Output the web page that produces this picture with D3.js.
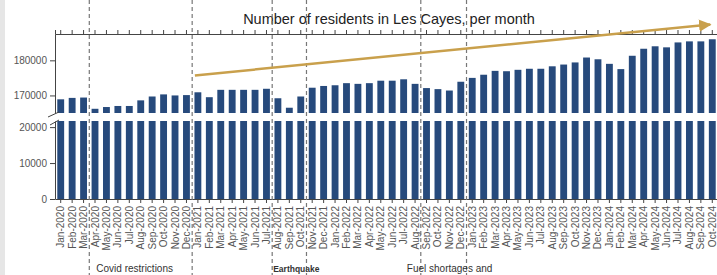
<!DOCTYPE html>
<html>
<head>
<meta charset="utf-8">
<script src="https://cdn.jsdelivr.net/npm/d3@7"></script>
<style>
  body { margin: 0; background: #fff; }
  svg { display: block; font-family: "Liberation Sans", Arial, sans-serif; }
</style>
</head>
<body>
<svg id="chart" width="717" height="275"></svg>
<script>
// month labels, Jan-2020 .. Oct-2024
const months = [
  'Jan-2020','Feb-2020','Mar-2020','Apr-2020','May-2020','Jun-2020','Jul-2020','Aug-2020','Sep-2020','Oct-2020','Nov-2020','Dec-2020',
  'Jan-2021','Feb-2021','Mar-2021','Apr-2021','May-2021','Jun-2021','Jul-2021','Aug-2021','Sep-2021','Oct-2021','Nov-2021','Dec-2021',
  'Jan-2022','Feb-2022','Mar-2022','Apr-2022','May-2022','Jun-2022','Jul-2022','Aug-2022','Sep-2022','Oct-2022','Nov-2022','Dec-2022',
  'Jan-2023','Feb-2023','Mar-2023','Apr-2023','May-2023','Jun-2023','Jul-2023','Aug-2023','Sep-2023','Oct-2023','Nov-2023','Dec-2023',
  'Jan-2024','Feb-2024','Mar-2024','Apr-2024','May-2024','Jun-2024','Jul-2024','Aug-2024','Sep-2024','Oct-2024'
];

const residents = [
  168900, 169300, 169400, 166200, 166700, 167000, 167000, 168600, 169700, 170300, 170000, 170100,
  170900, 169500, 171600, 171600, 171600, 171600, 171900, 169200, 166500, 169700, 172200, 172700,
  172900, 173500, 173300, 173500, 174200, 174200, 174600, 173300, 172100, 171800, 171400, 173900,
  175000, 175900, 177000, 176900, 177300, 177600, 177600, 178300, 178800, 179400, 180800, 180300,
  179000, 177500, 181300, 183300, 184000, 183700, 185100, 185400, 185400, 186000
];

const upperTicks = [170000, 180000];
const lowerTicks = [0, 10000, 20000];

// dashed event lines drawn after these months
const eventAfter = ['Mar-2020', 'Dec-2020', 'Jul-2021', 'Oct-2021', 'Aug-2022', 'Dec-2022', 'Oct-2024'];

const events = [
  { after: 'Mar-2020', text: 'Covid restrictions', dx: 7, bold: false },
  { after: 'Jul-2021', text: 'Earthquake', dx: 1, bold: true },
  { after: 'Aug-2022', text: 'Fuel shortages and', dx: -14, bold: false }
];

// trend arrow (start month/value, end month/value)
const trend = [
  { month: 'Jan-2021', value: 175700 },
  { month: 'Oct-2024', value: 190200 }
];

const title = 'Number of residents in Les Cayes, per month';

const barColor = '#274a7c';
const axisColor = '#444';
const textColor = '#555';

const svg = d3.select('#chart');

// light grey strip at the very left
svg.append('rect').attr('x', 0).attr('y', 0).attr('width', 5).attr('height', 275).attr('fill', '#e6e6e6');

const x = d3.scaleBand().domain(months).range([55, 718]).paddingInner(0.4).paddingOuter(0.2);
const yTop = d3.scaleLinear().domain([165000, 187500]).range([113, 34]);
const yBot = d3.scaleLinear().domain([0, 21700]).range([199, 121]);

// title
svg.append('text')
  .attr('x', 389).attr('y', 24)
  .attr('text-anchor', 'middle')
  .attr('font-size', 14.5)
  .attr('fill', '#222')
  .text(title);

// bars, upper panel
svg.append('g').selectAll('rect')
  .data(residents)
  .join('rect')
  .attr('x', (d, i) => x(months[i]))
  .attr('width', x.bandwidth())
  .attr('y', d => yTop(d))
  .attr('height', d => yTop.range()[0] - yTop(d))
  .attr('fill', barColor);

// bars, lower panel (clipped at top)
svg.append('g').selectAll('rect')
  .data(residents)
  .join('rect')
  .attr('x', (d, i) => x(months[i]))
  .attr('width', x.bandwidth())
  .attr('y', d => yBot(Math.min(d, yBot.domain()[1])))
  .attr('height', d => yBot(0) - yBot(Math.min(d, yBot.domain()[1])))
  .attr('fill', barColor);

// top axis (ticks upward)
const topAxis = svg.append('g')
  .attr('transform', 'translate(0,34)')
  .call(d3.axisTop(x).tickSize(4).tickFormat(''));

// bottom axis
const bottomAxis = svg.append('g')
  .attr('transform', `translate(0,${yBot(0)})`)
  .call(d3.axisBottom(x).tickSize(4).tickSizeOuter(0));
bottomAxis.selectAll('text')
  .attr('transform', 'rotate(-90)')
  .attr('text-anchor', 'end')
  .attr('x', -7)
  .attr('y', 0)
  .attr('dy', '0.35em')
  .attr('font-size', 10)
  .attr('fill', textColor);

// left axes
const leftTop = svg.append('g')
  .attr('transform', 'translate(55,0)')
  .call(d3.axisLeft(yTop).tickValues(upperTicks).tickSize(5).tickSizeOuter(0).tickFormat(d3.format('d')));
const leftBot = svg.append('g')
  .attr('transform', 'translate(55,0)')
  .call(d3.axisLeft(yBot).tickValues(lowerTicks).tickSize(5).tickSizeOuter(0).tickFormat(d3.format('d')));

[topAxis, bottomAxis, leftTop, leftBot].forEach(g => {
  g.select('.domain').attr('stroke', axisColor);
  g.selectAll('.tick line').attr('stroke', axisColor);
  g.selectAll('text').attr('font-family', '"Liberation Sans", Arial, sans-serif');
});
[leftTop, leftBot].forEach(g => {
  g.selectAll('text').attr('font-size', 10).attr('fill', textColor).attr('x', -8);
});

// axis break marks
svg.append('line').attr('x1', 48).attr('y1', 117).attr('x2', 59).attr('y2', 112)
  .attr('stroke', axisColor).attr('stroke-width', 1);
svg.append('line').attr('x1', 50).attr('y1', 125).attr('x2', 59).attr('y2', 120)
  .attr('stroke', axisColor).attr('stroke-width', 1);

// dashed event lines
const step = x.step();
svg.append('g').selectAll('line')
  .data(eventAfter)
  .join('line')
  .attr('x1', d => x(d) + x.bandwidth() + step * x.paddingInner() / 2)
  .attr('x2', d => x(d) + x.bandwidth() + step * x.paddingInner() / 2)
  .attr('y1', 0).attr('y2', 275)
  .attr('stroke', '#777')
  .attr('stroke-width', 1.2)
  .attr('stroke-dasharray', '4,3');

// event texts
svg.append('g').selectAll('text')
  .data(events)
  .join('text')
  .attr('x', d => x(d.after) + x.bandwidth() + step * x.paddingInner() / 2 + d.dx)
  .attr('y', 272)
  .attr('font-size', d => d.bold ? 8.5 : 10)
  .attr('font-weight', d => d.bold ? 'bold' : 'normal')
  .attr('fill', '#333')
  .text(d => d.text);

// trend arrow
const defs = svg.append('defs');
defs.append('marker')
  .attr('id', 'arrow')
  .attr('viewBox', '0 0 10 10')
  .attr('refX', 9).attr('refY', 5)
  .attr('markerWidth', 5).attr('markerHeight', 5)
  .attr('orient', 'auto')
  .append('path')
  .attr('d', 'M0,0L10,5L0,10z')
  .attr('fill', '#c9a04c');

const cx = d => x(d) + x.bandwidth() / 2;
svg.append('line')
  .attr('x1', cx(trend[0].month) - 3).attr('y1', yTop(trend[0].value))
  .attr('x2', cx(trend[1].month) - 2).attr('y2', yTop(trend[1].value))
  .attr('stroke', '#c9a04c')
  .attr('stroke-width', 2.5)
  .attr('marker-end', 'url(#arrow)');
</script>
</body>
</html>
